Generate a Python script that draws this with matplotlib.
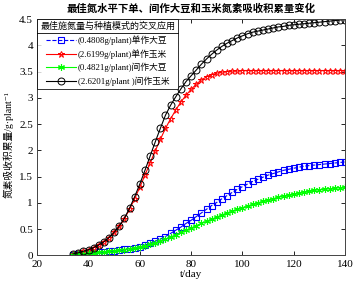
import numpy as np
import matplotlib.pyplot as plt
from matplotlib.lines import Line2D

plt.rcParams['font.family'] = ['Liberation Serif', 'Noto Sans CJK SC', 'DejaVu Sans']

# 时间 (天)
t = np.arange(34, 141, 2)

# 间作玉米
maize_inter = [0.03, 0.05, 0.08, 0.11, 0.15, 0.20, 0.26, 0.34, 0.44, 0.56,
               0.71, 0.90, 1.12, 1.36, 1.62, 1.89, 2.16, 2.42, 2.67, 2.86,
               3.02, 3.17, 3.31, 3.42, 3.53, 3.64, 3.74, 3.83, 3.91, 3.98,
               4.04, 4.09, 4.14, 4.18, 4.22, 4.25, 4.27, 4.29, 4.31, 4.33,
               4.35, 4.36, 4.38, 4.39, 4.40, 4.41, 4.42, 4.43, 4.44, 4.45,
               4.46, 4.47, 4.48, 4.49]
# 单作玉米
maize_mono = [0.03, 0.05, 0.08, 0.11, 0.15, 0.20, 0.26, 0.34, 0.44, 0.56,
              0.70, 0.88, 1.08, 1.30, 1.53, 1.76, 1.99, 2.21, 2.42, 2.60,
              2.77, 2.92, 3.05, 3.16, 3.26, 3.34, 3.40, 3.44, 3.47, 3.49,
              3.50, 3.51, 3.51, 3.52, 3.52, 3.52, 3.52, 3.52, 3.52, 3.52,
              3.52, 3.52, 3.52, 3.52, 3.52, 3.52, 3.52, 3.52, 3.52, 3.52,
              3.52, 3.52, 3.52, 3.52]
# 单作大豆
soy_mono = [0.01, 0.02, 0.03, 0.04, 0.05, 0.06, 0.07, 0.08, 0.09, 0.10,
            0.12, 0.13, 0.15, 0.17, 0.20, 0.23, 0.27, 0.31, 0.36, 0.42,
            0.48, 0.54, 0.61, 0.67, 0.74, 0.81, 0.88, 0.95, 1.01, 1.08,
            1.14, 1.20, 1.26, 1.31, 1.36, 1.41, 1.45, 1.49, 1.53, 1.56,
            1.59, 1.62, 1.64, 1.66, 1.68, 1.70, 1.71, 1.72, 1.73, 1.74,
            1.75, 1.76, 1.77, 1.78]
# 间作大豆
soy_inter = [0.01, 0.02, 0.03, 0.04, 0.05, 0.06, 0.07, 0.08, 0.09, 0.10,
             0.11, 0.13, 0.14, 0.16, 0.18, 0.21, 0.24, 0.27, 0.31, 0.35,
             0.39, 0.44, 0.48, 0.52, 0.57, 0.61, 0.65, 0.69, 0.73, 0.77,
             0.81, 0.84, 0.88, 0.91, 0.94, 0.97, 1.00, 1.03, 1.06, 1.08,
             1.11, 1.13, 1.15, 1.17, 1.19, 1.21, 1.22, 1.24, 1.25, 1.26,
             1.27, 1.28, 1.29, 1.30]

labels = ['(0.4808g/plant)单作大豆', '(2.6199g/plant)单作玉米',
          '(0.4821g/plant)间作大豆', '(2.6201g/plant )间作玉米']

fig = plt.figure(figsize=(3.54, 2.88), dpi=100)
ax = fig.add_axes([0.105, 0.113, 0.870, 0.821])

ms = 4
ax.plot(t, soy_mono, '--', color='blue', marker='s', mfc='none', ms=ms, lw=0.8, mew=0.8, label=labels[0])
ax.plot(t, maize_mono, '-', color='red', marker='*', mfc='none', ms=ms + 1, lw=0.8, mew=0.7, label=labels[1])
ax.plot(t, soy_inter, '-', color='#00ff00', marker=(6, 2, 0), ms=ms + 1, lw=0.8, mew=0.8, label=labels[2])
ax.plot(t, maize_inter, '-', color='black', marker='o', mfc='none', ms=ms + 1, lw=0.8, mew=0.7, label=labels[3])

ax.set_xlim(20, 140)
ax.set_ylim(0, 4.5)
ax.set_xticks(np.arange(20, 141, 20))
ax.set_yticks(np.arange(0, 4.6, 0.5))
ax.set_yticklabels(['0', '0.5', '1', '1.5', '2', '2.5', '3', '3.5', '4', '4.5'])
ax.tick_params(direction='in', top=True, right=True, labelsize=8, length=3, width=0.6, pad=3)
for s in ax.spines.values():
    s.set_linewidth(0.7)
    s.set_color('#444444')

ax.set_xlabel('t/day', fontsize=8, labelpad=1)
ax.set_ylabel('氮素吸收积累量/g·plant⁻¹', fontsize=7)
ax.yaxis.set_label_coords(-0.078, 0.47)
ax.set_title('最佳氮水平下单、间作大豆和玉米氮素吸收积累量变化', fontsize=7.5,
             fontweight='bold', pad=5)

leg = ax.legend(loc='upper left', fontsize=6.3, title='最佳施氮量与种植模式的交叉应用',
                title_fontsize=6.5, frameon=True, fancybox=False, borderaxespad=0,
                handlelength=3.4, borderpad=0.35, labelspacing=0.47, handletextpad=0.2)
leg.get_frame().set_edgecolor('black')
leg.get_frame().set_linewidth(0.7)

# 图例标题下方分隔线
fig.canvas.draw()
fb = leg.get_frame().get_window_extent()
tb = leg.get_title().get_window_extent()
inv = fig.transFigure.inverted()
(x0, y0), (x1, _) = inv.transform([[fb.x0, tb.y0 - 2], [fb.x1, tb.y0 - 2]])
fig.add_artist(Line2D([x0, x1], [y0, y0], color='black', lw=0.6))

fig.savefig('out.png', dpi=100)
